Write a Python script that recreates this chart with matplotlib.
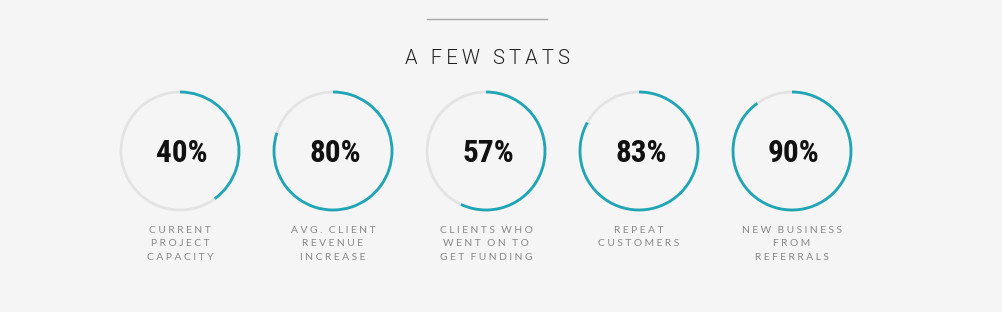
import matplotlib
matplotlib.use("Agg")
import matplotlib.pyplot as plt
from matplotlib.patches import Arc

values = [40, 80, 57, 83, 90]
labels = [
    ["CURRENT", "PROJECT", "CAPACITY"],
    ["AVG. CLIENT", "REVENUE", "INCREASE"],
    ["CLIENTS WHO", "WENT ON TO", "GET FUNDING"],
    ["REPEAT", "CUSTOMERS"],
    ["NEW BUSINESS", "FROM", "REFERRALS"],
]
title = "A FEW STATS"

W, H = 1003, 312
fig = plt.figure(figsize=(W / 100, H / 100), dpi=100, facecolor="#f5f5f5")
ax = fig.add_axes([0, 0, 1, 1])
ax.set_xlim(0, W)
ax.set_ylim(H, 0)
ax.set_aspect("equal")
ax.axis("off")
ax.set_facecolor("#f5f5f5")

def spaced(s, sep="\u2009\u2009", word="\u2002\u2009"):
    return sep.join(list(s)).replace(sep + " " + sep, word)

# divider
ax.plot([427, 547], [19, 19], color="#a8a8a8", lw=1.0)
ax.text(487, 58.5, spaced(title, "\u2009", "\u2009 \u2009"), ha="center", va="center",
        fontsize=14.5, color="#222222", family=["Roboto", "DejaVu Sans"], fontweight=300)

cx0, dx, cy, r = 180, 153, 151, 59
for i, (v, lab) in enumerate(zip(values, labels)):
    cx = cx0 + i * dx
    ax.add_patch(Arc((cx, cy), 2 * r, 2 * r, theta1=0, theta2=360,
                     color="#e3e3e3", lw=2.0))
    # y axis is inverted: data-CCW from -90 reads as clockwise from 12 o'clock
    ax.add_patch(Arc((cx, cy), 2 * r, 2 * r, theta1=-90, theta2=-90 + v * 3.6,
                     color="#1ea6b6", lw=2.0))
    ax.text(cx + 2, cy + 2.5, f"{v}%", ha="center", va="center", fontsize=22.5,
            fontweight="bold", fontstretch="condensed", color="#111111",
            family=["Roboto Condensed", "Liberation Sans Narrow", "DejaVu Sans"])
    for j, line in enumerate(lab):
        ax.text(cx, 230.5 + j * 13.5, spaced(line), ha="center", va="center",
                fontsize=7.4, color="#888888", family=["Lato", "DejaVu Sans"])

fig.savefig("out.png", dpi=100, facecolor="#f5f5f5")
